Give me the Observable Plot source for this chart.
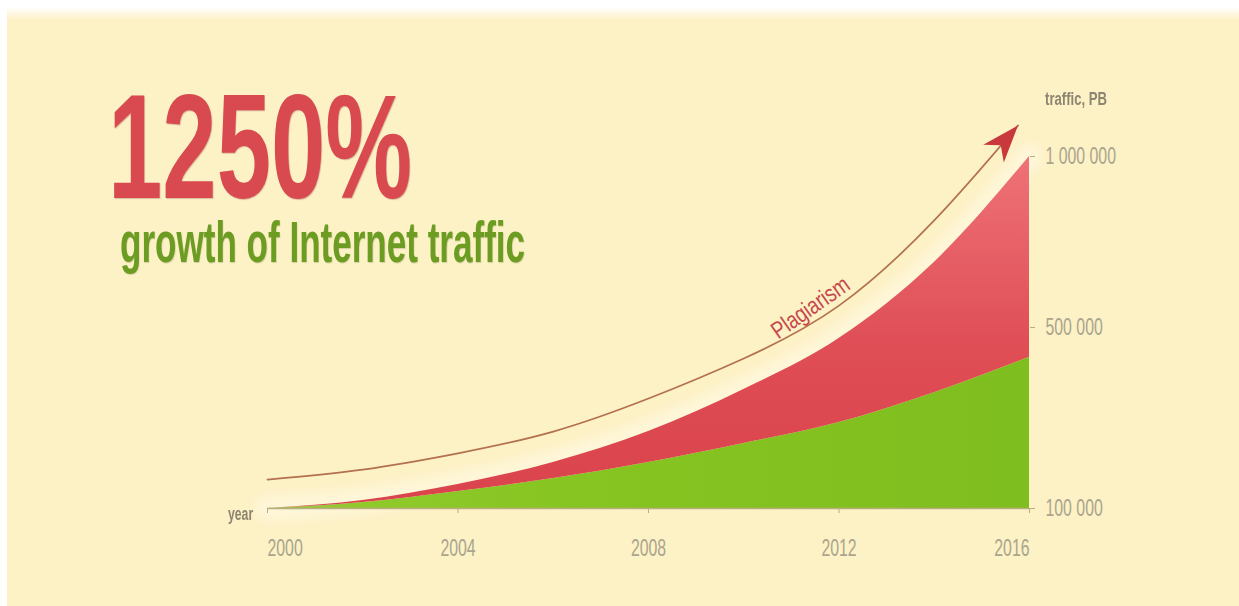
<!DOCTYPE html>
<html>
<head>
<meta charset="utf-8">
<script src="https://cdn.jsdelivr.net/npm/d3@7"></script>
<script src="https://cdn.jsdelivr.net/npm/@observablehq/plot@0.6"></script>
<style>
html, body { margin: 0; padding: 0; background: #ffffff; width: 1239px; height: 606px; overflow: hidden; }
#bg { position: absolute; left: 7px; top: 0; width: 1232px; height: 606px;
      background: linear-gradient(to bottom, #ffffff 0px, #ffffff 7px, #fdf1c6 20px, #fdf1c6 100%); }
#chart { position: absolute; left: 0; top: 0; }
.t { position: absolute; white-space: nowrap; transform-origin: 0 0;
     font-family: "Liberation Sans", Arial, sans-serif; }
#big { left: 108px; top: 91px; font-size: 148px; line-height: 0.75; font-weight: bold; color: #d84a50; transform: scaleX(0.66);
       text-shadow: 1px 1px 1px rgba(120, 30, 30, 0.25); }
#sub { left: 120px; top: 217px; font-size: 57px; line-height: 0.9; font-weight: bold; color: #6c9d22; transform: scaleX(0.615);
       text-shadow: 1px 1px 1px rgba(60, 80, 20, 0.2); }
#ylab { left: 1045px; top: 90px; font-size: 18px; line-height: 1; font-weight: bold; color: #8c8570; transform: scaleX(0.73); }
#xlab { left: 228px; top: 505px; font-size: 18px; line-height: 1; font-weight: bold; color: #8c8570; transform: scaleX(0.68); }
</style>
</head>
<body>
<div id="bg"></div>
<div id="chart"></div>
<div class="t" id="big">1250%</div>
<div class="t" id="sub">growth of Internet traffic</div>
<div class="t" id="ylab">traffic, PB</div>
<div class="t" id="xlab">year</div>
<script>
// ---- data ----
const years = [2000, 2002, 2004, 2006, 2008, 2010, 2012, 2014, 2016];
const baseTraffic = [100000, 113000, 137600, 166300, 201700, 243700, 290000, 356000, 434000];
const totalTraffic = [100000, 117700, 153000, 201700, 270000, 363000, 475700, 690000, 1000000];

// "Plagiarism" arrow annotation path
const arrowYears = [2000, 2002, 2004, 2006, 2008, 2010, 2012, 2014, 2015.76];
const arrowValues = [164000, 186000, 222000, 270000, 343000, 431500, 564000, 813000, 1091000];
const arrowLabel = "Plagiarism";
const arrowLabelYear = 2011.4;
const arrowLabelValue = 558000;

const xTicks = [2000, 2004, 2008, 2012, 2016];
const yTicks = [100000, 500000, 1000000];

// ---- tables built from the arrays ----
const rows = years.map((year, i) => ({year, base: baseTraffic[i], total: totalTraffic[i]}));
const arrowRows = arrowYears.map((year, i) => ({year, value: arrowValues[i]}));
const tip = arrowRows[arrowRows.length - 1];

const fmt = d => d3.format(",")(d).replace(/,/g, " ");

// dart-shaped arrow head, tip at the anchor point
const dart = {
  draw(ctx, size) {
    const s = Math.sqrt(size / Math.PI);
    ctx.moveTo(0, 0);
    ctx.lineTo(0.8 * s, 2.2 * s);
    ctx.lineTo(0, 1.55 * s);
    ctx.lineTo(-0.8 * s, 2.2 * s);
    ctx.closePath();
  }
};

const chart = Plot.plot({
  width: 1239,
  height: 606,
  marginTop: 156,
  marginRight: 210,
  marginBottom: 98,
  marginLeft: 267,
  style: {background: "transparent", overflow: "visible", fontFamily: "'Liberation Sans', Arial, sans-serif"},
  x: {domain: [xTicks[0], xTicks[xTicks.length - 1]]},
  y: {type: "linear", domain: yTicks, range: [508, 327, 156]},
  marks: [
    // soft light glow along the top edge of the red area
    Plot.line(rows, {x: "year", y: "total", curve: "monotone-x", stroke: "#fffbea", strokeWidth: 26,
                     strokeOpacity: 0.5, imageFilter: "blur(5px)"}),
    Plot.areaY(rows, {x: "year", y1: () => yTicks[0], y2: "base", fill: "url(#gGreen)", curve: "monotone-x"}),
    Plot.areaY(rows, {x: "year", y1: "base", y2: "total", fill: "url(#gRed)", curve: "monotone-x"}),
    Plot.ruleY([yTicks[0]], {stroke: "#b8ae80", strokeWidth: 1.5}),
    Plot.axisX({ticks: xTicks, tickSize: 5, tickFormat: () => "", stroke: "#b8ae80", label: null}),
    Plot.axisY({anchor: "right", ticks: yTicks, tickSize: 5, tickPadding: 11, tickFormat: fmt,
                fontSize: 24, fill: "#aaa58d", stroke: "#b8ae80", label: null}),
    Plot.text([xTicks[0]], {x: d => d, y: () => yTicks[0], text: d => String(d), dy: 40, lineAnchor: "middle",
               textAnchor: "start", fontSize: 24, fill: "#aaa58d"}),
    Plot.text(xTicks.slice(1, -1), {x: d => d, y: () => yTicks[0], text: d => String(d), dy: 40, lineAnchor: "middle",
               textAnchor: "middle", fontSize: 24, fill: "#aaa58d"}),
    Plot.text([xTicks[xTicks.length - 1]], {x: d => d, y: () => yTicks[0], text: d => String(d), dy: 40, lineAnchor: "middle",
               textAnchor: "end", fontSize: 24, fill: "#aaa58d"}),
    Plot.line(arrowRows, {x: "year", y: "value", curve: "natural", stroke: "#b3714d", strokeWidth: 1.7}),
    Plot.dot([tip], {x: "year", y: "value", symbol: dart, r: 17, fill: "#c9383d", stroke: "none", rotate: 41}),
    Plot.text([{year: arrowLabelYear, value: arrowLabelValue}], {x: "year", y: "value", text: () => arrowLabel,
               rotate: -35, fontSize: 24, fill: "#c6484b"})
  ]
});

document.getElementById("chart").append(chart);

// gradients
const defs = d3.select(chart).insert("defs", ":first-child");
const gr = defs.append("linearGradient").attr("id", "gRed").attr("x1", 0).attr("y1", 0).attr("x2", 0).attr("y2", 1);
gr.append("stop").attr("offset", 0).attr("stop-color", "#ee7277");
gr.append("stop").attr("offset", 0.55).attr("stop-color", "#df4d55");
gr.append("stop").attr("offset", 1).attr("stop-color", "#da434b");
const gg = defs.append("linearGradient").attr("id", "gGreen").attr("x1", 0).attr("y1", 0).attr("x2", 1).attr("y2", 0);
gg.append("stop").attr("offset", 0).attr("stop-color", "#aabd50");
gg.append("stop").attr("offset", 0.12).attr("stop-color", "#8fca2a");
gg.append("stop").attr("offset", 0.5).attr("stop-color", "#84c320");
gg.append("stop").attr("offset", 1).attr("stop-color", "#7fbe1f");

// condense text (narrow typeface look)
chart.querySelectorAll("text").forEach(el => {
  const s = el.textContent.trim();
  if (!s) return;
  const k = s === arrowLabel ? 0.8 : /^[\d ]+$/.test(s) ? 0.66 : null;
  if (k === null) return;
  let t = el.getAttribute("transform") || "";
  const x = el.getAttribute("x");
  if (x !== null && x !== "" && !isNaN(+x)) { t += ` translate(${+x},0)`; el.removeAttribute("x"); }
  el.setAttribute("transform", (t + ` scale(${k},1)`).trim());
});
</script>
</body>
</html>
